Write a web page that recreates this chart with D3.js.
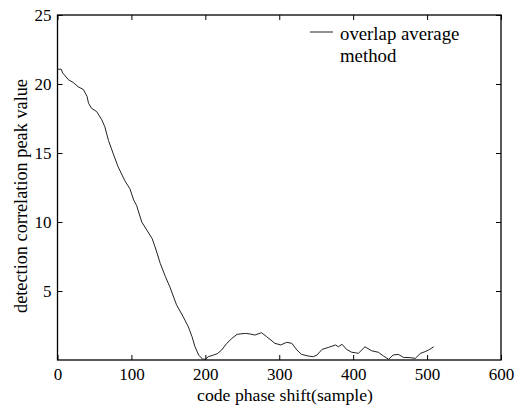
<!DOCTYPE html>
<html>
<head>
<meta charset="utf-8">
<script src="https://cdn.jsdelivr.net/npm/d3@7"></script>
<style>
  html, body { margin: 0; padding: 0; background: #fff; }
  svg text { font-family: "Liberation Serif", "Times New Roman", Times, serif !important; fill: #000; }
</style>
</head>
<body>
<svg id="chart" width="520" height="410"></svg>
<script>
// Data
const codeShift = [0,5,7,15,21,28,35,40,42,46,53,60,64,69,76,82,91,98,103,107,114,121,128,132,139,146,152,161,170,177,182,186,191,196,200,204,211,216,222,229,236,243,254,261,267,276,283,294,302,310,317,324,330,339,346,351,358,367,376,380,385,391,398,403,407,416,425,434,441,448,454,461,468,477,484,491,497,502,509];
const peakValue = [21.07,21.07,20.8,20.3,20.12,19.8,19.6,19.1,18.6,18.24,18.0,17.4,16.9,15.9,14.86,14.0,13.0,12.4,11.6,11.2,10.0,9.4,8.8,8.2,7.0,6.04,5.3,4.0,3.14,2.4,1.69,0.96,0.36,0.07,0.05,0.24,0.36,0.45,0.72,1.21,1.57,1.86,1.93,1.88,1.81,1.98,1.69,1.21,1.09,1.28,1.21,0.72,0.41,0.29,0.24,0.36,0.77,0.92,1.09,0.96,1.14,0.77,0.56,0.53,0.48,0.96,0.67,0.56,0.29,0.05,0.36,0.41,0.19,0.17,0.12,0.48,0.6,0.72,0.96];
const xTicks = [0,100,200,300,400,500,600];
const yTicks = [5,10,15,20,25];
const seriesName = ["overlap average", "method"];
const xLabel = "code phase shift(sample)";
const yLabel = "detection correlation peak value";

const svg = d3.select("#chart");
const L = 57.5, R = 501, T = 15, B = 360;
const x = d3.scaleLinear().domain([0, 600]).range([L, R]);
const y = d3.scaleLinear().domain([0, 25]).range([B, T]);

// frame
svg.append("rect").attr("x", L).attr("y", T).attr("width", R - L).attr("height", B - T)
  .attr("fill", "none").attr("stroke", "#000").attr("stroke-width", 1.3);

const tickLen = 5;
const xb = svg.append("g").attr("transform", `translate(0,${B})`)
  .call(d3.axisBottom(x).tickValues(xTicks).tickSizeInner(-tickLen).tickSizeOuter(0).tickPadding(8).tickFormat(d3.format("d")));
const xt = svg.append("g").attr("transform", `translate(0,${T})`)
  .call(d3.axisTop(x).tickValues(xTicks).tickSizeInner(-tickLen).tickSizeOuter(0).tickFormat(""));
const yl = svg.append("g").attr("transform", `translate(${L},0)`)
  .call(d3.axisLeft(y).tickValues(yTicks).tickSizeInner(-tickLen).tickSizeOuter(0).tickPadding(6).tickFormat(d3.format("d")));
const yr = svg.append("g").attr("transform", `translate(${R},0)`)
  .call(d3.axisRight(y).tickValues(yTicks).tickSizeInner(-tickLen).tickSizeOuter(0).tickFormat(""));

[xb, xt, yl, yr].forEach(g => {
  g.attr("font-family", null);
  g.select(".domain").remove();
  g.selectAll(".tick line").attr("stroke", "#000").attr("stroke-width", 1);
  g.selectAll(".tick text").attr("font-size", 17);
});
xb.selectAll(".tick text").attr("dy", "0.71em");

// line
const line = d3.line().x((d, i) => x(codeShift[i])).y(d => y(d));
svg.append("path").datum(peakValue).attr("d", line)
  .attr("fill", "none").attr("stroke", "#222").attr("stroke-width", 1);

// legend
svg.append("line").attr("x1", 310).attr("x2", 333).attr("y1", 32).attr("y2", 32)
  .attr("stroke", "#222").attr("stroke-width", 1);
svg.append("text").attr("x", 340).attr("y", 40).attr("font-size", 18.8).text(seriesName[0]);
svg.append("text").attr("x", 340).attr("y", 62).attr("font-size", 18.8).text(seriesName[1]);

// axis labels
svg.append("text").attr("x", 285).attr("y", 401).attr("text-anchor", "middle")
  .attr("font-size", 17.7).text(xLabel);
svg.append("text").attr("transform", "translate(27,196) rotate(-90)").attr("text-anchor", "middle")
  .attr("font-size", 18.3).text(yLabel);
</script>
</body>
</html>
